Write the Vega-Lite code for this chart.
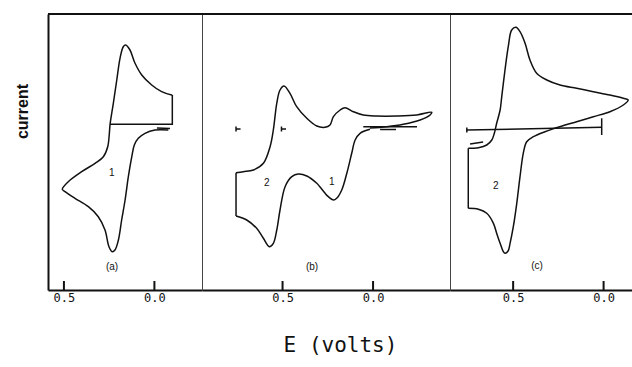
{
  "$schema": "https://vega.github.io/schema/vega-lite/v6.json",
  "background": "white",
  "padding": {"left": 14, "top": 13, "right": 0, "bottom": 5},
  "spacing": 0,
  "bounds": "flush",
  "config": {"view": {"stroke": null}, "axis": {"grid": false}},
  "title": {"text": "E (volts)", "orient": "bottom", "anchor": "middle", "font": "DejaVu Sans Mono", "fontSize": 21, "fontWeight": "normal", "color": "#111", "offset": 32, "dx": 17},
  "datasets": {
    "ticks": [{"E": 0}, {"E": 0.5}],
    "cv": [
      {"p":"a","s":"a1","k":"c","i":1,"E":-0.077,"I":16.0},
      {"p":"a","s":"a1","k":"c","i":2,"E":-0.003,"I":16.0},
      {"p":"a","s":"a1","k":"c","i":3,"E":0.052,"I":15.67},
      {"p":"a","s":"a1","k":"c","i":4,"E":0.089,"I":15.17},
      {"p":"a","s":"a1","k":"c","i":5,"E":0.111,"I":14.5},
      {"p":"a","s":"a1","k":"c","i":6,"E":0.125,"I":13.33},
      {"p":"a","s":"a1","k":"c","i":7,"E":0.144,"I":11.33},
      {"p":"a","s":"a1","k":"c","i":8,"E":0.162,"I":9.0},
      {"p":"a","s":"a1","k":"c","i":9,"E":0.181,"I":7.0},
      {"p":"a","s":"a1","k":"c","i":10,"E":0.199,"I":5.0},
      {"p":"a","s":"a1","k":"c","i":11,"E":0.218,"I":4.0},
      {"p":"a","s":"a1","k":"c","i":12,"E":0.233,"I":3.83},
      {"p":"a","s":"a1","k":"c","i":13,"E":0.251,"I":4.33},
      {"p":"a","s":"a1","k":"c","i":14,"E":0.273,"I":6.0},
      {"p":"a","s":"a1","k":"c","i":15,"E":0.31,"I":7.33},
      {"p":"a","s":"a1","k":"c","i":16,"E":0.365,"I":8.33},
      {"p":"a","s":"a1","k":"c","i":17,"E":0.439,"I":9.17},
      {"p":"a","s":"a1","k":"c","i":18,"E":0.494,"I":9.83},
      {"p":"a","s":"a1","k":"c","i":19,"E":0.509,"I":10.07},
      {"p":"a","s":"a1","k":"c","i":20,"E":0.476,"I":10.83},
      {"p":"a","s":"a1","k":"c","i":21,"E":0.402,"I":11.83},
      {"p":"a","s":"a1","k":"c","i":22,"E":0.328,"I":12.67},
      {"p":"a","s":"a1","k":"c","i":23,"E":0.282,"I":13.33},
      {"p":"a","s":"a1","k":"c","i":24,"E":0.258,"I":14.33},
      {"p":"a","s":"a1","k":"c","i":25,"E":0.249,"I":15.67},
      {"p":"a","s":"a1","k":"c","i":26,"E":0.245,"I":16.57},
      {"p":"a","s":"a1","k":"c","i":27,"E":0.227,"I":18.67},
      {"p":"a","s":"a1","k":"c","i":28,"E":0.208,"I":21.0},
      {"p":"a","s":"a1","k":"c","i":29,"E":0.19,"I":23.17},
      {"p":"a","s":"a1","k":"c","i":30,"E":0.172,"I":24.33},
      {"p":"a","s":"a1","k":"c","i":31,"E":0.159,"I":24.5},
      {"p":"a","s":"a1","k":"c","i":32,"E":0.135,"I":24.0},
      {"p":"a","s":"a1","k":"c","i":33,"E":0.107,"I":22.67},
      {"p":"a","s":"a1","k":"c","i":34,"E":0.07,"I":21.5},
      {"p":"a","s":"a1","k":"c","i":35,"E":0.015,"I":20.5},
      {"p":"a","s":"a1","k":"c","i":36,"E":-0.04,"I":19.83},
      {"p":"a","s":"a1","k":"c","i":37,"E":-0.096,"I":19.5},
      {"p":"a","s":"a1","k":"c","i":38,"E":-0.099,"I":19.5},
      {"p":"a","s":"a2","k":"s","i":1,"E":-0.099,"I":19.5},
      {"p":"a","s":"a2","k":"s","i":2,"E":-0.099,"I":16.57},
      {"p":"a","s":"a2","k":"s","i":3,"E":0.245,"I":16.57},
      {"p":"a","s":"a3","k":"s","i":1,"E":-0.014,"I":16.2},
      {"p":"a","s":"a3","k":"s","i":2,"E":-0.086,"I":16.15},

      {"p":"b","s":"b1","k":"c","i":1,"E":0.017,"I":16.07},
      {"p":"b","s":"b1","k":"c","i":2,"E":0.072,"I":15.67},
      {"p":"b","s":"b1","k":"c","i":3,"E":0.099,"I":15.0},
      {"p":"b","s":"b1","k":"c","i":4,"E":0.118,"I":13.67},
      {"p":"b","s":"b1","k":"c","i":5,"E":0.145,"I":11.67},
      {"p":"b","s":"b1","k":"c","i":6,"E":0.173,"I":10.0},
      {"p":"b","s":"b1","k":"c","i":7,"E":0.201,"I":9.17},
      {"p":"b","s":"b1","k":"c","i":8,"E":0.219,"I":9.0},
      {"p":"b","s":"b1","k":"c","i":9,"E":0.247,"I":9.33},
      {"p":"b","s":"b1","k":"c","i":10,"E":0.265,"I":9.67},
      {"p":"b","s":"b1","k":"c","i":11,"E":0.293,"I":10.3},
      {"p":"b","s":"b1","k":"c","i":12,"E":0.311,"I":10.67},
      {"p":"b","s":"b1","k":"c","i":13,"E":0.366,"I":11.4},
      {"p":"b","s":"b1","k":"c","i":14,"E":0.413,"I":11.6},
      {"p":"b","s":"b1","k":"c","i":15,"E":0.449,"I":11.33},
      {"p":"b","s":"b1","k":"c","i":16,"E":0.486,"I":10.33},
      {"p":"b","s":"b1","k":"c","i":17,"E":0.514,"I":8.0},
      {"p":"b","s":"b1","k":"c","i":18,"E":0.532,"I":6.0},
      {"p":"b","s":"b1","k":"c","i":19,"E":0.551,"I":4.67},
      {"p":"b","s":"b1","k":"c","i":20,"E":0.573,"I":4.33},
      {"p":"b","s":"b1","k":"c","i":21,"E":0.606,"I":5.17},
      {"p":"b","s":"b1","k":"c","i":22,"E":0.643,"I":6.17},
      {"p":"b","s":"b1","k":"c","i":23,"E":0.698,"I":7.0},
      {"p":"b","s":"b1","k":"c","i":24,"E":0.757,"I":7.4},
      {"p":"b","s":"b2","k":"s","i":1,"E":0.757,"I":7.4},
      {"p":"b","s":"b2","k":"s","i":2,"E":0.757,"I":11.73},
      {"p":"b","s":"b3","k":"c","i":1,"E":0.757,"I":11.73},
      {"p":"b","s":"b3","k":"c","i":2,"E":0.717,"I":11.83},
      {"p":"b","s":"b3","k":"c","i":3,"E":0.661,"I":12.0},
      {"p":"b","s":"b3","k":"c","i":4,"E":0.606,"I":12.67},
      {"p":"b","s":"b3","k":"c","i":5,"E":0.569,"I":14.33},
      {"p":"b","s":"b3","k":"c","i":6,"E":0.551,"I":16.0},
      {"p":"b","s":"b3","k":"c","i":7,"E":0.532,"I":18.67},
      {"p":"b","s":"b3","k":"c","i":8,"E":0.514,"I":20.0},
      {"p":"b","s":"b3","k":"c","i":9,"E":0.492,"I":20.4},
      {"p":"b","s":"b3","k":"c","i":10,"E":0.459,"I":19.67},
      {"p":"b","s":"b3","k":"c","i":11,"E":0.422,"I":18.33},
      {"p":"b","s":"b3","k":"c","i":12,"E":0.366,"I":17.17},
      {"p":"b","s":"b3","k":"c","i":13,"E":0.311,"I":16.4},
      {"p":"b","s":"b3","k":"c","i":14,"E":0.265,"I":16.27},
      {"p":"b","s":"b3","k":"c","i":15,"E":0.238,"I":16.5},
      {"p":"b","s":"b3","k":"c","i":16,"E":0.219,"I":17.33},
      {"p":"b","s":"b3","k":"c","i":17,"E":0.182,"I":18.0},
      {"p":"b","s":"b3","k":"c","i":18,"E":0.155,"I":18.23},
      {"p":"b","s":"b3","k":"c","i":19,"E":0.109,"I":17.83},
      {"p":"b","s":"b3","k":"c","i":20,"E":0.054,"I":17.5},
      {"p":"b","s":"b3","k":"c","i":21,"E":-0.02,"I":17.4},
      {"p":"b","s":"b3","k":"c","i":22,"E":-0.131,"I":17.4},
      {"p":"b","s":"b3","k":"c","i":23,"E":-0.241,"I":17.5},
      {"p":"b","s":"b3","k":"c","i":24,"E":-0.324,"I":17.77},
      {"p":"b","s":"b3","k":"c","i":25,"E":-0.315,"I":17.5},
      {"p":"b","s":"b3","k":"c","i":26,"E":-0.26,"I":17.0},
      {"p":"b","s":"b3","k":"c","i":27,"E":-0.167,"I":16.57},
      {"p":"b","s":"b3","k":"c","i":28,"E":-0.076,"I":16.33},
      {"p":"b","s":"b3","k":"c","i":29,"E":0.017,"I":16.2},
      {"p":"b","s":"b4","k":"s","i":1,"E":0.054,"I":16.33},
      {"p":"b","s":"b4","k":"s","i":2,"E":-0.243,"I":16.33},
      {"p":"b","s":"b5","k":"s","i":1,"E":0.732,"I":16.1},
      {"p":"b","s":"b5","k":"s","i":2,"E":0.757,"I":16.1},
      {"p":"b","s":"b6","k":"s","i":1,"E":0.757,"I":16.35},
      {"p":"b","s":"b6","k":"s","i":2,"E":0.757,"I":15.85},
      {"p":"b","s":"b7","k":"s","i":1,"E":0.481,"I":16.1},
      {"p":"b","s":"b7","k":"s","i":2,"E":0.506,"I":16.1},
      {"p":"b","s":"b8","k":"s","i":1,"E":0.506,"I":16.35},
      {"p":"b","s":"b8","k":"s","i":2,"E":0.506,"I":15.85},
      {"p":"b","s":"b9","k":"s","i":1,"E":-0.039,"I":16.05},
      {"p":"b","s":"b9","k":"s","i":2,"E":-0.127,"I":16.05},

      {"p":"c","s":"c1","k":"c","i":2,"E":0.748,"I":8.17},
      {"p":"c","s":"c1","k":"c","i":3,"E":0.692,"I":8.07},
      {"p":"c","s":"c1","k":"c","i":4,"E":0.646,"I":7.67},
      {"p":"c","s":"c1","k":"c","i":5,"E":0.609,"I":6.67},
      {"p":"c","s":"c1","k":"c","i":6,"E":0.591,"I":5.67},
      {"p":"c","s":"c1","k":"c","i":7,"E":0.572,"I":4.67},
      {"p":"c","s":"c1","k":"c","i":8,"E":0.554,"I":3.83},
      {"p":"c","s":"c1","k":"c","i":9,"E":0.545,"I":3.67},
      {"p":"c","s":"c1","k":"c","i":10,"E":0.528,"I":3.9},
      {"p":"c","s":"c1","k":"c","i":11,"E":0.517,"I":4.67},
      {"p":"c","s":"c1","k":"c","i":12,"E":0.499,"I":6.33},
      {"p":"c","s":"c1","k":"c","i":13,"E":0.48,"I":8.67},
      {"p":"c","s":"c1","k":"c","i":14,"E":0.462,"I":11.33},
      {"p":"c","s":"c1","k":"c","i":15,"E":0.444,"I":13.67},
      {"p":"c","s":"c1","k":"c","i":16,"E":0.425,"I":14.83},
      {"p":"c","s":"c1","k":"c","i":17,"E":0.388,"I":15.33},
      {"p":"c","s":"c1","k":"c","i":18,"E":0.324,"I":15.83},
      {"p":"c","s":"c1","k":"c","i":19,"E":0.269,"I":16.17},
      {"p":"c","s":"c1","k":"c","i":20,"E":0.213,"I":16.5},
      {"p":"c","s":"c1","k":"c","i":21,"E":0.149,"I":16.83},
      {"p":"c","s":"c1","k":"c","i":22,"E":0.057,"I":17.33},
      {"p":"c","s":"c1","k":"c","i":23,"E":-0.035,"I":17.83},
      {"p":"c","s":"c1","k":"c","i":24,"E":-0.109,"I":18.5},
      {"p":"c","s":"c1","k":"c","i":25,"E":-0.136,"I":19.0},
      {"p":"c","s":"c1","k":"c","i":26,"E":-0.109,"I":19.17},
      {"p":"c","s":"c1","k":"c","i":27,"E":-0.035,"I":19.5},
      {"p":"c","s":"c1","k":"c","i":28,"E":0.057,"I":19.83},
      {"p":"c","s":"c1","k":"c","i":29,"E":0.149,"I":20.17},
      {"p":"c","s":"c1","k":"c","i":30,"E":0.241,"I":20.5},
      {"p":"c","s":"c1","k":"c","i":31,"E":0.314,"I":21.0},
      {"p":"c","s":"c1","k":"c","i":32,"E":0.37,"I":21.67},
      {"p":"c","s":"c1","k":"c","i":33,"E":0.407,"I":23.0},
      {"p":"c","s":"c1","k":"c","i":34,"E":0.434,"I":24.67},
      {"p":"c","s":"c1","k":"c","i":35,"E":0.462,"I":25.83},
      {"p":"c","s":"c1","k":"c","i":36,"E":0.484,"I":26.27},
      {"p":"c","s":"c1","k":"c","i":37,"E":0.508,"I":26.0},
      {"p":"c","s":"c1","k":"c","i":38,"E":0.527,"I":24.33},
      {"p":"c","s":"c1","k":"c","i":39,"E":0.545,"I":22.0},
      {"p":"c","s":"c1","k":"c","i":40,"E":0.563,"I":19.33},
      {"p":"c","s":"c1","k":"c","i":41,"E":0.572,"I":18.0},
      {"p":"c","s":"c1","k":"c","i":42,"E":0.591,"I":16.67},
      {"p":"c","s":"c1","k":"c","i":43,"E":0.604,"I":15.67},
      {"p":"c","s":"c1","k":"c","i":44,"E":0.618,"I":15.0},
      {"p":"c","s":"c1","k":"c","i":45,"E":0.646,"I":14.5},
      {"p":"c","s":"c1","k":"c","i":46,"E":0.692,"I":14.23},
      {"p":"c","s":"c1","k":"c","i":47,"E":0.748,"I":14.17},
      {"p":"c","s":"c2","k":"s","i":1,"E":0.748,"I":14.17},
      {"p":"c","s":"c2","k":"s","i":2,"E":0.748,"I":8.17},
      {"p":"c","s":"c3","k":"s","i":1,"E":0.756,"I":16.0},
      {"p":"c","s":"c3","k":"s","i":2,"E":0.0105,"I":16.27},
      {"p":"c","s":"c4","k":"s","i":1,"E":0.0105,"I":17.17},
      {"p":"c","s":"c4","k":"s","i":2,"E":0.0105,"I":15.5},
      {"p":"c","s":"c5","k":"s","i":1,"E":0.756,"I":16.25},
      {"p":"c","s":"c5","k":"s","i":2,"E":0.756,"I":15.75},
      {"p":"c","s":"c6","k":"s","i":1,"E":0.738,"I":14.6},
      {"p":"c","s":"c6","k":"s","i":2,"E":0.666,"I":14.8}
    ],
    "lab": [
      {"p":"a","t":"(a)","E":0.234,"I":2.3},
      {"p":"a","t":"1","E":0.236,"I":11.67},
      {"p":"b","t":"(b)","E":0.337,"I":2.3},
      {"p":"b","t":"2","E":0.587,"I":10.73},
      {"p":"b","t":"1","E":0.228,"I":10.83},
      {"p":"c","t":"(c)","E":0.368,"I":2.4},
      {"p":"c","t":"2","E":0.596,"I":10.4}
    ]
  },
  "hconcat": [
    {
      "width": 154, "height": 276,
      "layer": [
        {
          "data": {"name": "cv"},
          "transform": [{"filter": "datum.p == 'a' && datum.k == 'c'"}],
          "mark": {"type": "line", "interpolate": "catmull-rom", "stroke": "#111", "strokeWidth": 1.5},
          "encoding": {
            "x": {"field": "E", "type": "quantitative", "scale": {"domain": [-0.263, 0.588], "reverse": true, "nice": false, "zero": false},
                  "axis": {"values": [0, 0.5], "format": ".1f", "title": null, "ticks": false, "domainWidth": 2, "domainColor": "#111", "labelPadding": 2, "labelFont": "DejaVu Sans Mono", "labelFontSize": 12, "labelColor": "#111", "labelFlush": false}},
            "y": {"field": "I", "type": "quantitative", "scale": {"domain": [0, 27.6], "nice": false, "zero": false},
                  "axis": {"title": "current", "labels": false, "ticks": false, "domainWidth": 2, "domainColor": "#111", "titleFont": "Liberation Sans", "titleFontSize": 16, "titleFontWeight": "bold", "titleColor": "#111", "titleX": -26, "titleY": 97, "titleAngle": 270, "titleAlign": "center", "titleBaseline": "middle"}},
            "order": {"field": "i", "type": "quantitative"},
            "detail": {"field": "s"}
          }
        },
        {
          "data": {"name": "cv"},
          "transform": [{"filter": "datum.p == 'a' && datum.k == 's'"}],
          "mark": {"type": "line", "interpolate": "linear", "stroke": "#111", "strokeWidth": 1.5},
          "encoding": {
            "x": {"field": "E", "type": "quantitative"},
            "y": {"field": "I", "type": "quantitative"},
            "order": {"field": "i", "type": "quantitative"},
            "detail": {"field": "s"}
          }
        },
        {
          "data": {"name": "ticks"},
          "mark": {"type": "rule", "stroke": "#111", "strokeWidth": 2},
          "encoding": {"x": {"field": "E", "type": "quantitative"}, "y": {"datum": 0}, "y2": {"datum": 0.9}}
        },
        {
          "data": {"values": [{}]},
          "mark": {"type": "rule", "stroke": "#111", "strokeWidth": 2},
          "encoding": {"y": {"datum": 27.6}}
        },
        {
          "data": {"name": "lab"},
          "transform": [{"filter": "datum.p == 'a'"}],
          "mark": {"type": "text", "font": "Liberation Sans", "fontSize": 10, "color": "#111", "align": "center", "baseline": "middle"},
          "encoding": {
            "x": {"field": "E", "type": "quantitative"},
            "y": {"field": "I", "type": "quantitative"},
            "text": {"field": "t"}
          }
        }
      ]
    },
    {
      "width": 248, "height": 276,
      "layer": [
        {
          "data": {"name": "cv"},
          "transform": [{"filter": "datum.p == 'b' && datum.k == 'c'"}],
          "mark": {"type": "line", "interpolate": "catmull-rom", "stroke": "#111", "strokeWidth": 1.5},
          "encoding": {
            "x": {"field": "E", "type": "quantitative", "scale": {"domain": [-0.425, 0.945], "reverse": true, "nice": false, "zero": false},
                  "axis": {"values": [0, 0.5], "format": ".1f", "title": null, "ticks": false, "domainWidth": 2, "domainColor": "#111", "labelPadding": 2, "labelFont": "DejaVu Sans Mono", "labelFontSize": 12, "labelColor": "#111", "labelFlush": false}},
            "y": {"field": "I", "type": "quantitative", "scale": {"domain": [0, 27.6], "nice": false, "zero": false},
                  "axis": {"title": null, "labels": false, "ticks": false, "domainWidth": 1, "domainColor": "#444"}},
            "order": {"field": "i", "type": "quantitative"},
            "detail": {"field": "s"}
          }
        },
        {
          "data": {"name": "cv"},
          "transform": [{"filter": "datum.p == 'b' && datum.k == 's'"}],
          "mark": {"type": "line", "interpolate": "linear", "stroke": "#111", "strokeWidth": 1.5},
          "encoding": {
            "x": {"field": "E", "type": "quantitative"},
            "y": {"field": "I", "type": "quantitative"},
            "order": {"field": "i", "type": "quantitative"},
            "detail": {"field": "s"}
          }
        },
        {
          "data": {"name": "ticks"},
          "mark": {"type": "rule", "stroke": "#111", "strokeWidth": 2},
          "encoding": {"x": {"field": "E", "type": "quantitative"}, "y": {"datum": 0}, "y2": {"datum": 0.9}}
        },
        {
          "data": {"values": [{}]},
          "mark": {"type": "rule", "stroke": "#111", "strokeWidth": 2},
          "encoding": {"y": {"datum": 27.6}}
        },
        {
          "data": {"name": "lab"},
          "transform": [{"filter": "datum.p == 'b'"}],
          "mark": {"type": "text", "font": "Liberation Sans", "fontSize": 10, "color": "#111", "align": "center", "baseline": "middle"},
          "encoding": {
            "x": {"field": "E", "type": "quantitative"},
            "y": {"field": "I", "type": "quantitative"},
            "text": {"field": "t"}
          }
        }
      ]
    },
    {
      "width": 182, "height": 276,
      "layer": [
        {
          "data": {"name": "cv"},
          "transform": [{"filter": "datum.p == 'c' && datum.k == 'c'"}],
          "mark": {"type": "line", "interpolate": "catmull-rom", "stroke": "#111", "strokeWidth": 1.5},
          "encoding": {
            "x": {"field": "E", "type": "quantitative", "scale": {"domain": [-0.157, 0.849], "reverse": true, "nice": false, "zero": false},
                  "axis": {"values": [0, 0.5], "format": ".1f", "title": null, "ticks": false, "domainWidth": 2, "domainColor": "#111", "labelPadding": 2, "labelFont": "DejaVu Sans Mono", "labelFontSize": 12, "labelColor": "#111", "labelFlush": false}},
            "y": {"field": "I", "type": "quantitative", "scale": {"domain": [0, 27.6], "nice": false, "zero": false},
                  "axis": {"title": null, "labels": false, "ticks": false, "domainWidth": 1, "domainColor": "#444"}},
            "order": {"field": "i", "type": "quantitative"},
            "detail": {"field": "s"}
          }
        },
        {
          "data": {"name": "cv"},
          "transform": [{"filter": "datum.p == 'c' && datum.k == 's'"}],
          "mark": {"type": "line", "interpolate": "linear", "stroke": "#111", "strokeWidth": 1.5},
          "encoding": {
            "x": {"field": "E", "type": "quantitative"},
            "y": {"field": "I", "type": "quantitative"},
            "order": {"field": "i", "type": "quantitative"},
            "detail": {"field": "s"}
          }
        },
        {
          "data": {"name": "ticks"},
          "mark": {"type": "rule", "stroke": "#111", "strokeWidth": 2},
          "encoding": {"x": {"field": "E", "type": "quantitative"}, "y": {"datum": 0}, "y2": {"datum": 0.9}}
        },
        {
          "data": {"values": [{}]},
          "mark": {"type": "rule", "stroke": "#111", "strokeWidth": 2},
          "encoding": {"y": {"datum": 27.6}}
        },
        {
          "data": {"name": "lab"},
          "transform": [{"filter": "datum.p == 'c'"}],
          "mark": {"type": "text", "font": "Liberation Sans", "fontSize": 10, "color": "#111", "align": "center", "baseline": "middle"},
          "encoding": {
            "x": {"field": "E", "type": "quantitative"},
            "y": {"field": "I", "type": "quantitative"},
            "text": {"field": "t"}
          }
        }
      ]
    }
  ]
}
